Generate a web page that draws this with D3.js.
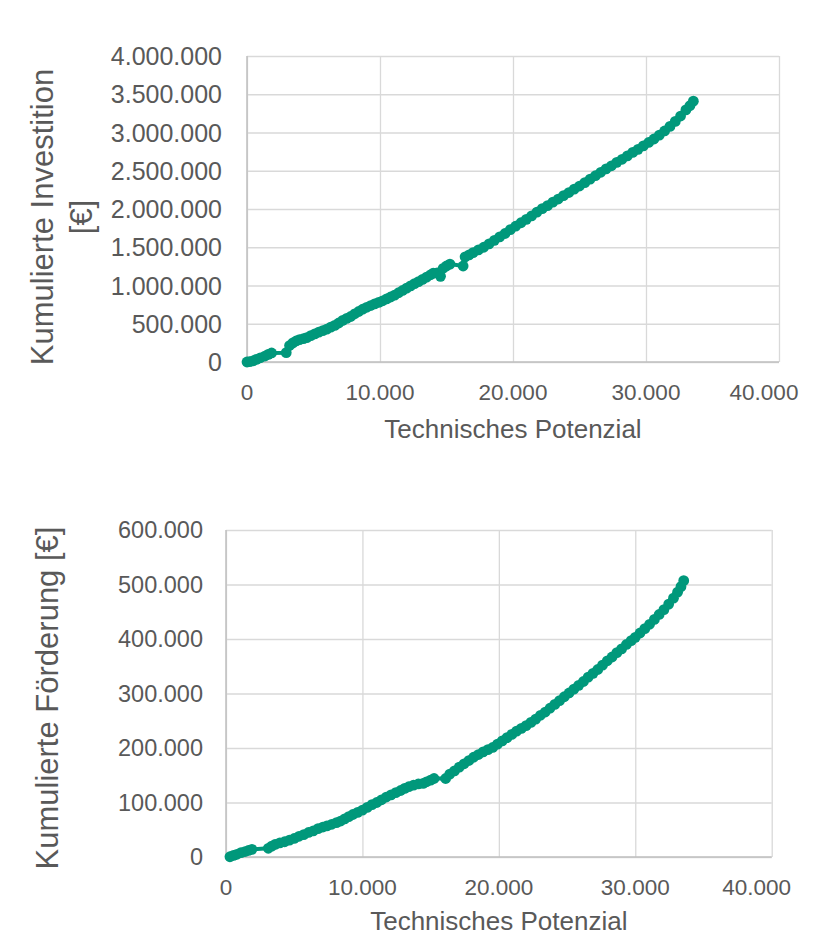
<!DOCTYPE html>
<html>
<head>
<meta charset="utf-8">
<script src="https://cdn.jsdelivr.net/npm/d3@7"></script>
<style>
html,body{margin:0;padding:0;background:#fff;}
svg{display:block;}
text{font-family:"Liberation Sans",Arial,sans-serif;fill:#595959;}
</style>
</head>
<body>
<svg id="chart" width="834" height="937"></svg>
<script>
// ---- Data ----
// Chart 1: Technisches Potenzial vs. Kumulierte Investition [€]
const potenzial1 = [0,200,450,700,1000,1350,1600,1850,2950,3200,3450,3700,3950,4250,4500,4800,5100,5400,5700,6000,6300,6600,6900,7200,7500,7800,8100,8400,8700,9000,9300,9600,9900,10200,10500,10800,11100,11400,11700,12000,12300,12600,12900,13200,13500,13800,14000,14300,14550,14750,15000,15260,16250,16400,16700,17000,17400,17800,18200,18600,19000,19400,19800,20200,20600,21000,21400,21800,22200,22600,23000,23400,23800,24200,24600,25000,25400,25800,26200,26600,27000,27400,27800,28200,28600,29000,29400,29800,30200,30600,31000,31400,31800,32200,32600,33000,33300,33560];
const investition = [0,4000,15000,35000,55000,78000,100000,118000,122000,215000,250000,275000,292000,305000,318000,345000,368000,390000,410000,430000,455000,478000,510000,545000,570000,595000,630000,660000,690000,715000,738000,760000,780000,800000,825000,850000,875000,905000,935000,965000,995000,1025000,1050000,1080000,1110000,1140000,1160000,1165000,1120000,1225000,1255000,1280000,1255000,1375000,1400000,1430000,1465000,1500000,1545000,1590000,1635000,1680000,1730000,1775000,1820000,1865000,1910000,1960000,2005000,2045000,2090000,2130000,2175000,2215000,2260000,2300000,2345000,2390000,2435000,2480000,2525000,2565000,2610000,2650000,2695000,2740000,2780000,2825000,2870000,2915000,2965000,3020000,3080000,3145000,3215000,3295000,3350000,3410000];

// Chart 2: Technisches Potenzial vs. Kumulierte Förderung [€]
const potenzial2 = [290,550,800,1100,1400,1650,1900,3100,3350,3600,3950,4300,4650,5000,5350,5700,6050,6400,6750,7100,7400,7750,8100,8400,8700,9000,9300,9650,10000,10350,10700,11050,11400,11750,12100,12450,12800,13100,13400,13750,14100,14450,14700,15000,15250,16100,16400,16750,17100,17450,17800,18150,18500,18850,19200,19550,19900,20250,20600,20950,21300,21650,22000,22350,22700,23050,23400,23750,24100,24450,24800,25150,25500,25850,26200,26550,26900,27250,27600,27950,28300,28650,29000,29350,29700,30000,30350,30700,31050,31400,31750,32100,32450,32800,33100,33350,33550];
const foerderung = [500,3000,5000,8000,10000,12000,14000,16000,20000,23000,26000,28000,31000,34000,38000,41000,45000,48000,52000,55000,57000,60000,63000,66000,70000,74000,78000,82000,86000,91000,96000,100000,105000,110000,114000,118000,122000,126000,129000,132000,134000,135000,138000,141000,144000,144000,152000,158000,165000,171000,177000,183000,188000,193000,197000,201000,207000,213000,219000,225000,231000,236000,241000,247000,253000,260000,266000,273000,280000,287000,294000,301000,308000,315000,322000,330000,337000,344000,352000,360000,367000,375000,382000,390000,397000,403000,411000,419000,427000,436000,445000,454000,464000,475000,486000,496000,507000];

const xTicks = [0,10000,20000,30000,40000];
const yTicks1 = [0,500000,1000000,1500000,2000000,2500000,3000000,3500000,4000000];
const yTicks2 = [0,100000,200000,300000,400000,500000,600000];
const xTitle = "Technisches Potenzial";
const yTitle1 = ["Kumulierte Investition","[€]"];
const yTitle2 = ["Kumulierte Förderung [€]"];

// ---- Rendering ----
const de = d3.formatLocale({decimal:",",thousands:".",grouping:[3],currency:["","€"]});
const fmt = de.format(",d");
const COLOR = "#00987B";
const svg = d3.select("#chart");

function drawChart(cfg){
  const {left,right,top,bottom,xs,ys,yTicks,yMax,yTickFont,xTickFont,yTickGap,xTickBase,xTitleBase,yTitleLines,yTitleX,yTitleY,xLastShift} = cfg;
  const x = d3.scaleLinear().domain([0,40000]).range([left,right]);
  const y = d3.scaleLinear().domain([0,yMax]).range([bottom,top]);
  const g = svg.append("g");

  // gridlines
  g.append("g").attr("transform",`translate(0,${bottom})`)
    .call(d3.axisBottom(x).tickValues(xTicks).tickSize(-(bottom-top)).tickFormat(""))
    .call(s=>s.select(".domain").remove())
    .call(s=>s.selectAll(".tick line").attr("stroke","#d9d9d9").attr("stroke-width",1.3));
  g.append("g").attr("transform",`translate(${left},0)`)
    .call(d3.axisLeft(y).tickValues(yTicks).tickSize(-(right-left)).tickFormat(""))
    .call(s=>s.select(".domain").remove())
    .call(s=>s.selectAll(".tick line").attr("stroke","#d9d9d9").attr("stroke-width",1.3));
  // axis lines
  g.append("line").attr("x1",left).attr("x2",left).attr("y1",top).attr("y2",bottom).attr("stroke","#bfbfbf").attr("stroke-width",1.5);
  g.append("line").attr("x1",left).attr("x2",right).attr("y1",bottom).attr("y2",bottom).attr("stroke","#bfbfbf").attr("stroke-width",1.5);

  // y tick labels
  g.append("g").selectAll("text").data(yTicks).join("text")
    .attr("x",left-yTickGap).attr("y",d=>y(d)).attr("dy","0.36em")
    .attr("text-anchor","end").style("font-size",yTickFont+"px").text(d=>fmt(d));
  // x tick labels
  g.append("g").selectAll("text").data(xTicks).join("text")
    .attr("x",(d,i)=>x(d)-(i===xTicks.length-1?xLastShift:0)).attr("y",xTickBase)
    .attr("text-anchor","middle").style("font-size",xTickFont+"px").text(d=>fmt(d));
  // x title
  g.append("text").attr("x",(left+right)/2).attr("y",xTitleBase).attr("text-anchor","middle")
    .style("font-size","26px").text(xTitle);
  // y title
  const yt = g.append("text").attr("transform",`translate(${yTitleX},${yTitleY}) rotate(-90)`)
    .attr("text-anchor","middle").style("font-size","31px");
  yTitleLines.forEach((t,i)=>{
    yt.append("tspan").attr("x",0).attr("y",i*39).text(t);
  });

  // series
  const pts = xs.map((v,i)=>[v,ys[i]]);
  g.append("path").datum(pts)
    .attr("fill","none").attr("stroke",COLOR).attr("stroke-width",4).attr("stroke-linejoin","round")
    .attr("d",d3.line().x(d=>x(d[0])).y(d=>y(d[1])));
  g.append("g").selectAll("circle").data(pts).join("circle")
    .attr("cx",d=>x(d[0])).attr("cy",d=>y(d[1])).attr("r",5.4).attr("fill",COLOR);
}

drawChart({left:247,right:779,top:56,bottom:362,xs:potenzial1,ys:investition,yTicks:yTicks1,yMax:4000000,
  yTickFont:25,xTickFont:22.5,yTickGap:25,xTickBase:400,xTitleBase:438,yTitleLines:yTitle1,yTitleX:53,yTitleY:217,xLastShift:15});
drawChart({left:226,right:771.7,top:530,bottom:857,xs:potenzial2,ys:foerderung,yTicks:yTicks2,yMax:600000,
  yTickFont:23.5,xTickFont:22.5,yTickGap:23,xTickBase:895,xTitleBase:930,yTitleLines:yTitle2,yTitleX:58,yTitleY:698,xLastShift:15});
</script>
</body>
</html>
